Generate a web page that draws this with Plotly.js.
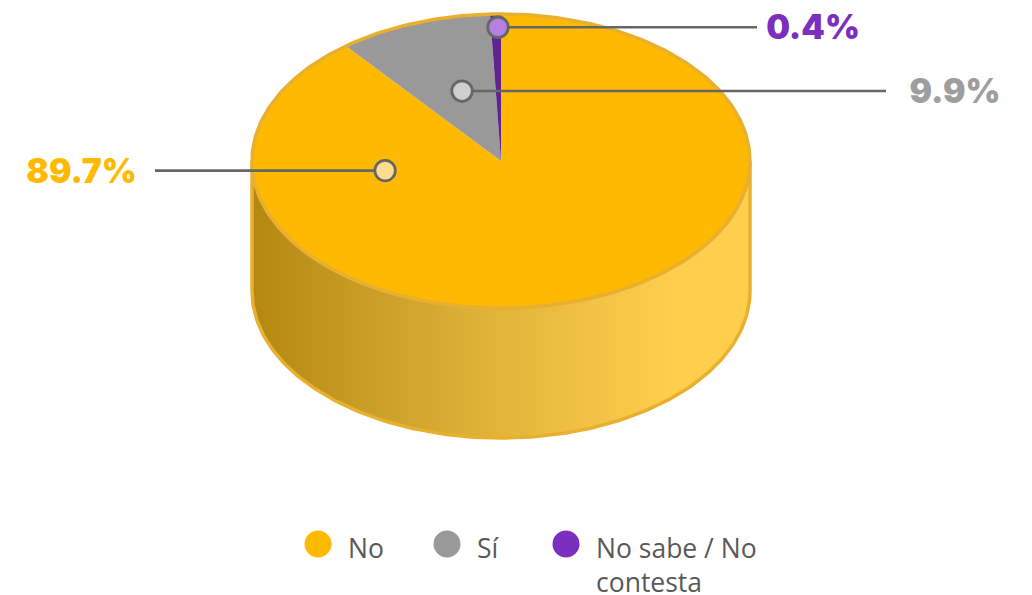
<!DOCTYPE html>
<html>
<head>
<meta charset="utf-8">
<script src="https://cdn.plot.ly/plotly-3.0.1.min.js"></script>
<style>html,body{margin:0;padding:0;background:#fff}#c{width:1032px;height:595px}</style>
</head>
<body>
<div id="c"></div>
<script>
// Data
const categories = ['No', 'Sí', 'No sabe / No<br>contesta'];
const valueLabels = ['89.7%', '9.9%', '0.4%'];
const values = [89.3, 10.0, 0.7];

// Styles
const sliceColors = ['#FFB900', '#999999', '#5F2392'];
const labelColors = ['#FFB900', '#9E9E9E', '#7B2FBE'];
const legendColors = ['#FFB900', '#999999', '#7B2FBE'];
const dotColors = ['#FFDD8F', '#CFCFCF', '#B87FE0'];
const edgeColor = '#E9B02F';
const leaderColor = '#666666';

// Pie geometry (axis units equal pixels)
const cx = 501, cy = 161, rx = 249, ry = 147, depth = 130;
const pt = (deg, r = 1) => {
  const a = deg * Math.PI / 180;
  return [cx + r * rx * Math.sin(a), cy - r * ry * Math.cos(a)];
};
const arc = (from, to, r = 1, dy = 0) => {
  const xs = [], ys = [];
  const n = Math.max(2, Math.ceil(Math.abs(to - from)));
  for (let i = 0; i <= n; i++) {
    const p = pt(from + (to - from) * i / n, r);
    xs.push(p[0]); ys.push(p[1] + dy);
  }
  return [xs, ys];
};

// Callouts: placement in the ellipse and end of each leader
const calloutAngle = [262, 341.8, 359.24];
const calloutRadius = [0.47, 0.501, 0.91];
const leaderEnd = [155, 886, 757];
const labelX = [81.5, 955, 813];
const labelDy = [4, 4, 3];

// Legend placement
const legendMarkerX = [318, 447, 566];
const legendTextX = [346.5, 475.5, 594.5];
const legendY = 544;

const traces = [];
const base = {type: 'scatter', hoverinfo: 'skip', showlegend: false, cliponaxis: false};

// Side wall
const front = arc(90, 270);
const wallBack = arc(270, 90, 1, depth);
traces.push({...base, mode: 'lines',
  x: front[0].concat(wallBack[0], [front[0][0]]),
  y: front[1].concat(wallBack[1], [front[1][0]]),
  fill: 'toself',
  fillcolor: '#E0B338',
  fillgradient: {type: 'horizontal', colorscale: [
    [0, '#B38710'], [0.25, '#CBA028'], [0.5, '#E2B53A'], [0.85, '#FFCE4D'], [1, '#FFCE4D']]},
  line: {color: edgeColor, width: 3.5}
});

// Top slices, clockwise from 12 o'clock
const total = values.reduce((a, b) => a + b, 0);
let start = 0;
values.forEach((v, i) => {
  const end = start + v / total * 360;
  const a = arc(start, end);
  traces.push({...base, mode: 'none', name: categories[i],
    x: [cx].concat(a[0], [cx]), y: [cy].concat(a[1], [cy]),
    fill: 'toself', fillcolor: sliceColors[i]});
  start = end;
});

// Top rim
const rim = arc(0, 360);
traces.push({...base, mode: 'lines', x: rim[0], y: rim[1], line: {color: edgeColor, width: 3.5}});

// Leaders, dots, value labels
values.forEach((v, i) => {
  const p = pt(calloutAngle[i], calloutRadius[i]);
  traces.push({...base, mode: 'lines', x: [p[0], leaderEnd[i]], y: [p[1], p[1]],
    line: {color: leaderColor, width: 2.6}});
});
values.forEach((v, i) => {
  const p = pt(calloutAngle[i], calloutRadius[i]);
  traces.push({...base, mode: 'markers', x: [p[0]], y: [p[1]],
    marker: {size: 20.5, color: dotColors[i], line: {color: leaderColor, width: 2.8}}});
  traces.push({...base, mode: 'text', x: [labelX[i]], y: [p[1] + labelDy[i]], text: [valueLabels[i]],
    textposition: 'middle center',
    textfont: {family: 'Inter, "Noto Sans", sans-serif', size: 33.5, weight: 900, color: labelColors[i]}});
});

// Legend
traces.push({...base, mode: 'markers', x: legendMarkerX, y: legendMarkerX.map(() => legendY),
  marker: {size: 27, color: legendColors}});

const annotations = categories.map((c, i) => ({
  xref: 'x', yref: 'y', x: legendTextX[i], y: legendY - 15, text: c,
  xanchor: 'left', yanchor: 'top', align: 'left', showarrow: false, borderpad: 0,
  font: {family: '"Open Sans", sans-serif', size: 26.5, color: '#595959'}
}));

Plotly.newPlot('c', traces, {
  width: 1032, height: 595,
  margin: {l: 0, r: 0, t: 0, b: 0},
  paper_bgcolor: '#fff', plot_bgcolor: '#fff',
  showlegend: false,
  xaxis: {range: [0, 1032], visible: false, fixedrange: true},
  yaxis: {range: [595, 0], visible: false, fixedrange: true},
  annotations
}, {displayModeBar: false, staticPlot: true});
</script>
</body>
</html>
